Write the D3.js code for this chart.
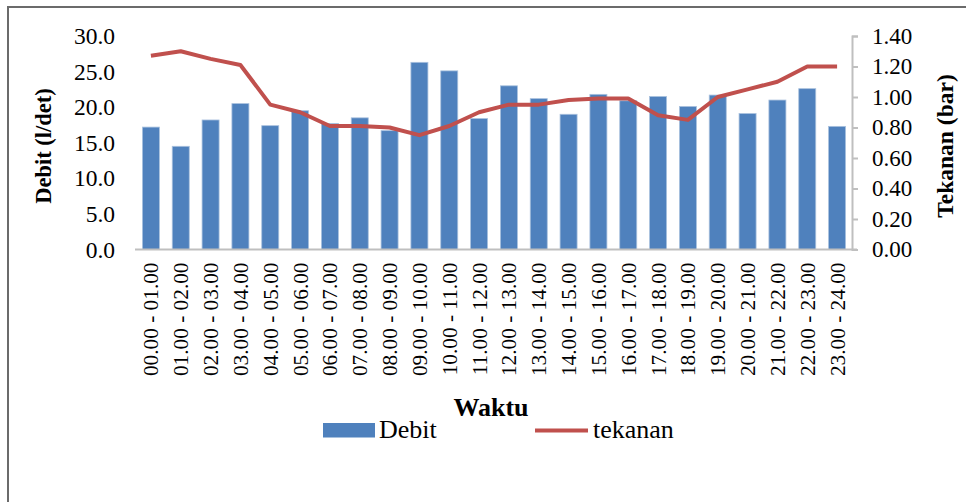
<!DOCTYPE html>
<html>
<head>
<meta charset="utf-8">
<script src="https://cdn.jsdelivr.net/npm/d3@7"></script>
<style>
  body { margin: 0; background: #fff; }
  svg { display: block; font-family: "Liberation Serif", "Times New Roman", serif; }
</style>
</head>
<body>
<script>
(function() {
    "use strict";

    //hour ranges along the x axis
    var categories = ["00.00 - 01.00", "01.00 - 02.00", "02.00 - 03.00", "03.00 - 04.00",
        "04.00 - 05.00", "05.00 - 06.00", "06.00 - 07.00", "07.00 - 08.00",
        "08.00 - 09.00", "09.00 - 10.00", "10.00 - 11.00", "11.00 - 12.00",
        "12.00 - 13.00", "13.00 - 14.00", "14.00 - 15.00", "15.00 - 16.00",
        "16.00 - 17.00", "17.00 - 18.00", "18.00 - 19.00", "19.00 - 20.00",
        "20.00 - 21.00", "21.00 - 22.00", "22.00 - 23.00", "23.00 - 24.00"];

    //flow (l/det)
    var debit = [17.2, 14.5, 18.2, 20.5, 17.4, 19.5, 17.7, 18.5, 16.7, 26.3, 25.1, 18.4,
        23.0, 21.2, 19.0, 21.8, 20.9, 21.5, 20.1, 21.7, 19.1, 21.0, 22.6, 17.3];

    //pressure (bar)
    var tekanan = [1.27, 1.30, 1.25, 1.21, 0.95, 0.90, 0.81, 0.81, 0.80, 0.75, 0.81, 0.90,
        0.95, 0.95, 0.98, 0.99, 0.99, 0.88, 0.85, 1.00, 1.05, 1.10, 1.20, 1.20];

    var leftTicks = [0, 5, 10, 15, 20, 25, 30];
    var rightTicks = [0, 0.2, 0.4, 0.6, 0.8, 1.0, 1.2, 1.4];

    var W = 966, H = 502;
    var PLOT_LEFT = 136, PLOT_RIGHT = 852, PLOT_TOP = 36, PLOT_BOTTOM = 249.5;
    var BAR_COLOR = "#4F81BD", LINE_COLOR = "#C0504D", AXIS_COLOR = "#BFBFBF";

    var svg = d3.select("body").append("svg")
        .attr("width", W)
        .attr("height", H);

    //outer chart frame, only the top and left edges are in view
    svg.append("path")
        .attr("d", "M8," + H + "V7H" + W)
        .attr("fill", "none")
        .attr("stroke", "#6b6b6b")
        .attr("stroke-width", 2);

    var x = d3.scaleBand()
        .domain(categories)
        .range([PLOT_LEFT, PLOT_RIGHT])
        .paddingInner(0.43)
        .paddingOuter(0.215);

    var yLeft = d3.scaleLinear().domain([0, 30]).range([PLOT_BOTTOM, PLOT_TOP]);
    var yRight = d3.scaleLinear().domain([0, 1.4]).range([PLOT_BOTTOM, PLOT_TOP]);

    //bars
    svg.append("g").selectAll("rect")
        .data(debit)
        .enter()
        .append("rect")
        .attr("x", function(d, i) { return x(categories[i]); })
        .attr("y", function(d) { return yLeft(d); })
        .attr("width", x.bandwidth())
        .attr("height", function(d) { return PLOT_BOTTOM - yLeft(d); })
        .attr("fill", BAR_COLOR)
        .attr("stroke", "#a9c1de")
        .attr("stroke-width", 0.8);

    //left axis: labels only, no line
    var leftAxis = svg.append("g")
        .attr("transform", "translate(" + PLOT_LEFT + ",0)")
        .call(d3.axisLeft(yLeft).tickValues(leftTicks).tickSize(0).tickPadding(21)
            .tickFormat(d3.format(".1f")));
    leftAxis.select(".domain").remove();
    leftAxis.selectAll("text")
        .attr("font-size", 23.5)
        .attr("font-family", "Liberation Serif")
        .attr("fill", "#000");

    //right axis with line and outward ticks
    var rightAxis = svg.append("g")
        .attr("transform", "translate(" + PLOT_RIGHT + ",0)")
        .call(d3.axisRight(yRight).tickValues(rightTicks).tickSize(6).tickSizeOuter(6).tickPadding(14)
            .tickFormat(d3.format(".2f")));
    rightAxis.select(".domain").attr("stroke", AXIS_COLOR).attr("stroke-width", 2);
    rightAxis.selectAll(".tick line").attr("stroke", AXIS_COLOR).attr("stroke-width", 2);
    rightAxis.selectAll("text")
        .attr("font-size", 23)
        .attr("font-family", "Liberation Serif")
        .attr("fill", "#000");

    //category axis along the bottom
    var bottomAxis = svg.append("g")
        .attr("transform", "translate(0," + PLOT_BOTTOM + ")")
        .call(d3.axisBottom(x).tickSize(0).tickSizeOuter(0));
    bottomAxis.select(".domain")
        .attr("d", "M" + (PLOT_LEFT - 1) + ",0H" + (PLOT_RIGHT + 5))
        .attr("stroke", AXIS_COLOR)
        .attr("stroke-width", 2);
    bottomAxis.selectAll("text")
        .attr("font-size", 21.3)
        .attr("font-family", "Liberation Serif")
        .attr("fill", "#000")
        .attr("text-anchor", "end")
        .attr("dy", "0.35em")
        .attr("transform", "translate(0,13) rotate(-90)")
        .attr("x", 0)
        .attr("y", 0);

    //pressure line
    var line = d3.line()
        .x(function(d, i) { return x(categories[i]) + x.bandwidth() / 2; })
        .y(function(d) { return yRight(d); });

    svg.append("path")
        .datum(tekanan)
        .attr("d", line)
        .attr("fill", "none")
        .attr("stroke", LINE_COLOR)
        .attr("stroke-width", 4)
        .attr("stroke-linejoin", "round");

    //axis titles
    svg.append("text")
        .attr("transform", "translate(51,146) rotate(-90)")
        .attr("text-anchor", "middle")
        .attr("font-size", 22.5)
        .attr("font-weight", "bold")
        .text("Debit (l/det)");

    svg.append("text")
        .attr("transform", "translate(953,146) rotate(-90)")
        .attr("text-anchor", "middle")
        .attr("font-size", 23.5)
        .attr("font-weight", "bold")
        .text("Tekanan (bar)");

    svg.append("text")
        .attr("x", 491)
        .attr("y", 416)
        .attr("text-anchor", "middle")
        .attr("font-size", 26)
        .attr("font-weight", "bold")
        .text("Waktu");

    //legend
    var legend = svg.append("g");
    legend.append("rect")
        .attr("x", 323).attr("y", 423)
        .attr("width", 52).attr("height", 14.5)
        .attr("fill", BAR_COLOR);
    legend.append("text")
        .attr("x", 379).attr("y", 438)
        .attr("font-size", 26)
        .text("Debit");
    legend.append("line")
        .attr("x1", 535).attr("x2", 588)
        .attr("y1", 430.5).attr("y2", 430.5)
        .attr("stroke", LINE_COLOR)
        .attr("stroke-width", 4);
    legend.append("text")
        .attr("x", 593).attr("y", 438)
        .attr("font-size", 26)
        .text("tekanan");
}());
</script>
</body>
</html>
